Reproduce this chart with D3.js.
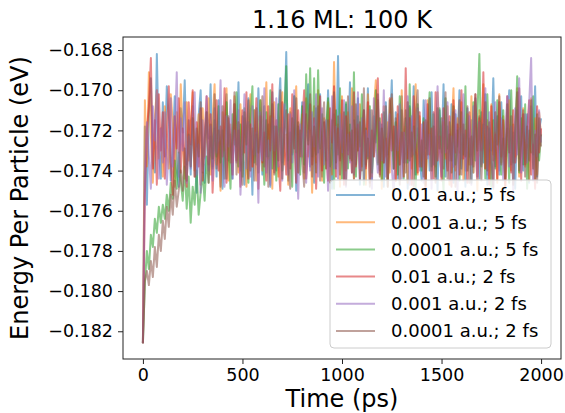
<!DOCTYPE html>
<html lang="en">
<head>
  <meta charset="UTF-8">
  <title>1.16 ML: 100 K</title>
  <script src="https://d3js.org/d3.v7.min.js"></script>
  <style>
    body { margin: 0; background: #fff; }
    text { font-family: "DejaVu Sans", sans-serif; fill: #000; }
    .tick line { stroke: #222; }
    .domain { display: none; }
  </style>
</head>
<body>
  <div id="chart"></div>

  <script>
    // sample times (ps), one sample every 10 ps
    const times = d3.range(0, 2001, 10);

    // energy per particle (eV)
    const e001_5fs = [
      -0.1826, -0.1718, -0.1757, -0.1712, -0.1694, -0.1736, -0.1741, -0.1682, -0.1729, -0.1744,
      -0.1706, -0.1733, -0.1698, -0.1714, -0.1745, -0.1727, -0.1703, -0.1739, -0.1748, -0.1709,
      -0.1721, -0.1695, -0.1737, -0.1715, -0.1742, -0.1708, -0.1726, -0.1751, -0.1713, -0.1700,
      -0.1734, -0.1746, -0.1711, -0.1724, -0.1697, -0.1738, -0.1719, -0.1743, -0.1705, -0.1730,
      -0.1749, -0.1716, -0.1702, -0.1735, -0.1722, -0.1744, -0.1707, -0.1728, -0.1696, -0.1740,
      -0.1713, -0.1747, -0.1731, -0.1704, -0.1719, -0.1752, -0.1710, -0.1737, -0.1699, -0.1725,
      -0.1742, -0.1708, -0.1733, -0.1717, -0.1748, -0.1701, -0.1729, -0.1740, -0.1712, -0.1694,
      -0.1736, -0.1720, -0.1681, -0.1745, -0.1711, -0.1732, -0.1703, -0.1750, -0.1718, -0.1727,
      -0.1706, -0.1741, -0.1714, -0.1697, -0.1738, -0.1723, -0.1746, -0.1709, -0.1731, -0.1702,
      -0.1743, -0.1716, -0.1735, -0.1700, -0.1728, -0.1749, -0.1712, -0.1739, -0.1683, -0.1734,
      -0.1720, -0.1744, -0.1707, -0.1730, -0.1696, -0.1741, -0.1715, -0.1737, -0.1704, -0.1747,
      -0.1724, -0.1710, -0.1738, -0.1699, -0.1733, -0.1745, -0.1713, -0.1726, -0.1702, -0.1740,
      -0.1717, -0.1748, -0.1706, -0.1732, -0.1721, -0.1695, -0.1739, -0.1711, -0.1744, -0.1727,
      -0.1703, -0.1736, -0.1714, -0.1749, -0.1708, -0.1730, -0.1698, -0.1742, -0.1719, -0.1734,
      -0.1745, -0.1705, -0.1729, -0.1716, -0.1740, -0.1701, -0.1737, -0.1723, -0.1750, -0.1710,
      -0.1731, -0.1697, -0.1743, -0.1718, -0.1735, -0.1707, -0.1746, -0.1712, -0.1728, -0.1700,
      -0.1739, -0.1722, -0.1748, -0.1709, -0.1733, -0.1715, -0.1741, -0.1704, -0.1726, -0.1744,
      -0.1711, -0.1736, -0.1702, -0.1747, -0.1719, -0.1730, -0.1694, -0.1738, -0.1713, -0.1742,
      -0.1706, -0.1729, -0.1745, -0.1717, -0.1700, -0.1737, -0.1721, -0.1749, -0.1710, -0.1734,
      -0.1703, -0.1740, -0.1725, -0.1712, -0.1746, -0.1708, -0.1732, -0.1698, -0.1743, -0.1720,
      -0.1714
    ];
    const e0001_5fs = [
      -0.1826, -0.1705, -0.1738, -0.1691, -0.1722, -0.1746, -0.1713, -0.1700, -0.1734, -0.1719,
      -0.1743, -0.1708, -0.1727, -0.1739, -0.1702, -0.1716, -0.1748, -0.1711, -0.1731, -0.1697,
      -0.1725, -0.1744, -0.1706, -0.1735, -0.1718, -0.1701, -0.1740, -0.1729, -0.1712, -0.1747,
      -0.1709, -0.1733, -0.1720, -0.1704, -0.1742, -0.1715, -0.1697, -0.1737, -0.1726, -0.1750,
      -0.1711, -0.1730, -0.1699, -0.1745, -0.1717, -0.1736, -0.1703, -0.1724, -0.1741, -0.1707,
      -0.1732, -0.1714, -0.1748, -0.1721, -0.1702, -0.1738, -0.1710, -0.1745, -0.1727, -0.1705,
      -0.1740, -0.1719, -0.1696, -0.1734, -0.1713, -0.1749, -0.1706, -0.1728, -0.1743, -0.1716,
      -0.1701, -0.1737, -0.1722, -0.1747, -0.1709, -0.1731, -0.1715, -0.1698, -0.1741, -0.1725,
      -0.1712, -0.1744, -0.1704, -0.1733, -0.1720, -0.1751, -0.1708, -0.1736, -0.1700, -0.1729,
      -0.1745, -0.1714, -0.1739, -0.1706, -0.1723, -0.1742, -0.1686, -0.1732, -0.1717, -0.1748,
      -0.1703, -0.1726, -0.1740, -0.1711, -0.1735, -0.1699, -0.1744, -0.1719, -0.1730, -0.1707,
      -0.1738, -0.1715, -0.1747, -0.1702, -0.1728, -0.1743, -0.1710, -0.1695, -0.1736, -0.1721,
      -0.1749, -0.1708, -0.1733, -0.1716, -0.1741, -0.1704, -0.1727, -0.1745, -0.1712, -0.1737,
      -0.1700, -0.1731, -0.1718, -0.1746, -0.1709, -0.1739, -0.1724, -0.1697, -0.1742, -0.1713,
      -0.1735, -0.1720, -0.1748, -0.1705, -0.1730, -0.1744, -0.1711, -0.1738, -0.1701, -0.1726,
      -0.1743, -0.1716, -0.1734, -0.1708, -0.1747, -0.1722, -0.1699, -0.1740, -0.1714, -0.1731,
      -0.1706, -0.1745, -0.1725, -0.1712, -0.1737, -0.1703, -0.1741, -0.1718, -0.1750, -0.1710,
      -0.1729, -0.1697, -0.1739, -0.1715, -0.1744, -0.1707, -0.1732, -0.1721, -0.1746, -0.1702,
      -0.1736, -0.1713, -0.1748, -0.1724, -0.1705, -0.1740, -0.1717, -0.1733, -0.1699, -0.1743,
      -0.1720, -0.1709, -0.1738, -0.1727, -0.1745, -0.1704, -0.1731, -0.1714, -0.1742, -0.1711,
      -0.1723
    ];
    const e00001_5fs = [
      -0.1826, -0.1796, -0.1780, -0.1789, -0.1772, -0.1778, -0.1764, -0.1771, -0.1758, -0.1766,
      -0.1757, -0.1764, -0.1752, -0.1760, -0.1746, -0.1754, -0.1735, -0.1749, -0.1731, -0.1745,
      -0.1755, -0.1738, -0.1759, -0.1743, -0.1766, -0.1748, -0.1757, -0.1740, -0.1762, -0.1751,
      -0.1741, -0.1755, -0.1733, -0.1746, -0.1723, -0.1739, -0.1715, -0.1733, -0.1708, -0.1736,
      -0.1720, -0.1744, -0.1706, -0.1731, -0.1749, -0.1712, -0.1727, -0.1701, -0.1738, -0.1717,
      -0.1743, -0.1709, -0.1730, -0.1746, -0.1714, -0.1698, -0.1736, -0.1722, -0.1741, -0.1705,
      -0.1728, -0.1747, -0.1711, -0.1733, -0.1700, -0.1739, -0.1718, -0.1745, -0.1707, -0.1726,
      -0.1740, -0.1713, -0.1688, -0.1735, -0.1721, -0.1748, -0.1703, -0.1731, -0.1716, -0.1742,
      -0.1708, -0.1737, -0.1692, -0.1725, -0.1689, -0.1733, -0.1694, -0.1741, -0.1690, -0.1729,
      -0.1712, -0.1746, -0.1720, -0.1704, -0.1738, -0.1715, -0.1749, -0.1710, -0.1732, -0.1699,
      -0.1744, -0.1723, -0.1706, -0.1739, -0.1717, -0.1735, -0.1691, -0.1743, -0.1713, -0.1728,
      -0.1702, -0.1747, -0.1719, -0.1734, -0.1708, -0.1741, -0.1725, -0.1700, -0.1737, -0.1714,
      -0.1745, -0.1711, -0.1730, -0.1748, -0.1705, -0.1722, -0.1739, -0.1716, -0.1742, -0.1703,
      -0.1727, -0.1744, -0.1710, -0.1736, -0.1697, -0.1733, -0.1718, -0.1749, -0.1707, -0.1731,
      -0.1740, -0.1714, -0.1747, -0.1721, -0.1701, -0.1738, -0.1712, -0.1743, -0.1726, -0.1709,
      -0.1734, -0.1750, -0.1704, -0.1729, -0.1716, -0.1741, -0.1708, -0.1737, -0.1720, -0.1745,
      -0.1711, -0.1732, -0.1698, -0.1740, -0.1724, -0.1746, -0.1706, -0.1735, -0.1713, -0.1682,
      -0.1738, -0.1717, -0.1744, -0.1702, -0.1730, -0.1748, -0.1715, -0.1739, -0.1705, -0.1727,
      -0.1742, -0.1710, -0.1733, -0.1719, -0.1746, -0.1700, -0.1736, -0.1723, -0.1693, -0.1741,
      -0.1714, -0.1737, -0.1707, -0.1749, -0.1720, -0.1731, -0.1703, -0.1744, -0.1712, -0.1735,
      -0.1722
    ];
    const e001_2fs = [
      -0.1826, -0.1752, -0.1720, -0.1708, -0.1684, -0.1739, -0.1715, -0.1747, -0.1702, -0.1730,
      -0.1711, -0.1744, -0.1725, -0.1698, -0.1736, -0.1752, -0.1713, -0.1729, -0.1704, -0.1741,
      -0.1719, -0.1734, -0.1748, -0.1706, -0.1727, -0.1700, -0.1743, -0.1716, -0.1738, -0.1709,
      -0.1745, -0.1722, -0.1703, -0.1737, -0.1712, -0.1751, -0.1728, -0.1705, -0.1740, -0.1718,
      -0.1733, -0.1699, -0.1746, -0.1714, -0.1724, -0.1742, -0.1707, -0.1735, -0.1720, -0.1748,
      -0.1710, -0.1731, -0.1701, -0.1744, -0.1717, -0.1738, -0.1726, -0.1704, -0.1749, -0.1713,
      -0.1736, -0.1721, -0.1745, -0.1708, -0.1730, -0.1697, -0.1741, -0.1715, -0.1734, -0.1750,
      -0.1706, -0.1727, -0.1742, -0.1712, -0.1739, -0.1702, -0.1723, -0.1746, -0.1710, -0.1733,
      -0.1718, -0.1700, -0.1744, -0.1729, -0.1707, -0.1737, -0.1714, -0.1749, -0.1722, -0.1703,
      -0.1740, -0.1716, -0.1731, -0.1745, -0.1709, -0.1726, -0.1698, -0.1743, -0.1719, -0.1735,
      -0.1705, -0.1747, -0.1713, -0.1732, -0.1721, -0.1741, -0.1701, -0.1738, -0.1717, -0.1744,
      -0.1728, -0.1710, -0.1739, -0.1706, -0.1746, -0.1720, -0.1733, -0.1715, -0.1694, -0.1742,
      -0.1712, -0.1736, -0.1724, -0.1748, -0.1704, -0.1730, -0.1718, -0.1745, -0.1708, -0.1737,
      -0.1721, -0.1743, -0.1689, -0.1734, -0.1714, -0.1747, -0.1703, -0.1729, -0.1741, -0.1711,
      -0.1738, -0.1716, -0.1750, -0.1707, -0.1732, -0.1719, -0.1744, -0.1701, -0.1735, -0.1723,
      -0.1745, -0.1709, -0.1727, -0.1740, -0.1713, -0.1748, -0.1705, -0.1731, -0.1717, -0.1742,
      -0.1700, -0.1734, -0.1720, -0.1746, -0.1711, -0.1737, -0.1725, -0.1702, -0.1743, -0.1714,
      -0.1730, -0.1691, -0.1739, -0.1718, -0.1747, -0.1708, -0.1735, -0.1722, -0.1744, -0.1706,
      -0.1733, -0.1715, -0.1748, -0.1703, -0.1728, -0.1741, -0.1710, -0.1736, -0.1724, -0.1699,
      -0.1745, -0.1712, -0.1737, -0.1720, -0.1705, -0.1742, -0.1727, -0.1749, -0.1708, -0.1731,
      -0.1719
    ];
    const e0001_2fs = [
      -0.1826, -0.1741, -0.1716, -0.1733, -0.1749, -0.1708, -0.1725, -0.1700, -0.1744, -0.1719,
      -0.1736, -0.1711, -0.1747, -0.1729, -0.1704, -0.1738, -0.1722, -0.1691, -0.1743, -0.1714,
      -0.1730, -0.1706, -0.1746, -0.1723, -0.1739, -0.1712, -0.1701, -0.1742, -0.1727, -0.1751,
      -0.1715, -0.1734, -0.1703, -0.1740, -0.1718, -0.1745, -0.1709, -0.1731, -0.1724, -0.1695,
      -0.1737, -0.1748, -0.1713, -0.1728, -0.1705, -0.1744, -0.1720, -0.1736, -0.1710, -0.1752,
      -0.1726, -0.1702, -0.1739, -0.1716, -0.1743, -0.1708, -0.1732, -0.1721, -0.1756, -0.1711,
      -0.1735, -0.1699, -0.1741, -0.1725, -0.1747, -0.1714, -0.1730, -0.1704, -0.1738, -0.1719,
      -0.1745, -0.1707, -0.1729, -0.1742, -0.1712, -0.1736, -0.1700, -0.1723, -0.1754, -0.1717,
      -0.1733, -0.1706, -0.1746, -0.1720, -0.1740, -0.1711, -0.1728, -0.1702, -0.1743, -0.1724,
      -0.1709, -0.1737, -0.1715, -0.1750, -0.1726, -0.1703, -0.1739, -0.1718, -0.1744, -0.1712,
      -0.1731, -0.1705, -0.1748, -0.1722, -0.1736, -0.1708, -0.1742, -0.1727, -0.1701, -0.1739,
      -0.1714, -0.1745, -0.1720, -0.1733, -0.1710, -0.1749, -0.1704, -0.1729, -0.1741, -0.1716,
      -0.1735, -0.1700, -0.1743, -0.1724, -0.1712, -0.1738, -0.1753, -0.1718, -0.1730, -0.1707,
      -0.1744, -0.1721, -0.1736, -0.1703, -0.1747, -0.1713, -0.1732, -0.1725, -0.1709, -0.1740,
      -0.1717, -0.1746, -0.1705, -0.1734, -0.1722, -0.1749, -0.1711, -0.1737, -0.1698, -0.1728,
      -0.1743, -0.1715, -0.1731, -0.1706, -0.1745, -0.1723, -0.1738, -0.1710, -0.1751, -0.1719,
      -0.1734, -0.1702, -0.1740, -0.1726, -0.1713, -0.1747, -0.1708, -0.1729, -0.1744, -0.1716,
      -0.1737, -0.1721, -0.1699, -0.1742, -0.1711, -0.1733, -0.1748, -0.1706, -0.1727, -0.1740,
      -0.1714, -0.1745, -0.1723, -0.1703, -0.1738, -0.1718, -0.1750, -0.1709, -0.1732, -0.1694,
      -0.1741, -0.1725, -0.1712, -0.1736, -0.1707, -0.1684, -0.1745, -0.1720, -0.1733, -0.1710,
      -0.1726
    ];
    const e00001_2fs = [
      -0.1826, -0.1795, -0.1790, -0.1797, -0.1785, -0.1793, -0.1778, -0.1788, -0.1772, -0.1780,
      -0.1765, -0.1774, -0.1758, -0.1768, -0.1752, -0.1762, -0.1745, -0.1758, -0.1750, -0.1740,
      -0.1750, -0.1729, -0.1745, -0.1722, -0.1738, -0.1714, -0.1743, -0.1719, -0.1733, -0.1706,
      -0.1741, -0.1725, -0.1711, -0.1746, -0.1717, -0.1734, -0.1702, -0.1739, -0.1720, -0.1748,
      -0.1708, -0.1730, -0.1744, -0.1713, -0.1736, -0.1724, -0.1701, -0.1742, -0.1716, -0.1733,
      -0.1747, -0.1711, -0.1727, -0.1705, -0.1740, -0.1719, -0.1745, -0.1709, -0.1731, -0.1722,
      -0.1703, -0.1738, -0.1715, -0.1748, -0.1726, -0.1707, -0.1742, -0.1718, -0.1735, -0.1700,
      -0.1744, -0.1723, -0.1710, -0.1737, -0.1749, -0.1714, -0.1729, -0.1704, -0.1741, -0.1720,
      -0.1735, -0.1748, -0.1712, -0.1727, -0.1702, -0.1743, -0.1718, -0.1732, -0.1708, -0.1745,
      -0.1721, -0.1706, -0.1739, -0.1715, -0.1746, -0.1725, -0.1701, -0.1736, -0.1713, -0.1742,
      -0.1728, -0.1711, -0.1747, -0.1703, -0.1734, -0.1720, -0.1744, -0.1707, -0.1730, -0.1716,
      -0.1740, -0.1699, -0.1737, -0.1724, -0.1748, -0.1710, -0.1733, -0.1717, -0.1705, -0.1743,
      -0.1719, -0.1736, -0.1708, -0.1745, -0.1726, -0.1702, -0.1739, -0.1714, -0.1731, -0.1747,
      -0.1710, -0.1728, -0.1741, -0.1706, -0.1735, -0.1721, -0.1748, -0.1712, -0.1700, -0.1738,
      -0.1725, -0.1743, -0.1715, -0.1732, -0.1704, -0.1740, -0.1718, -0.1746, -0.1709, -0.1729,
      -0.1714, -0.1739, -0.1701, -0.1744, -0.1722, -0.1735, -0.1711, -0.1748, -0.1727, -0.1705,
      -0.1742, -0.1717, -0.1733, -0.1708, -0.1746, -0.1723, -0.1738, -0.1702, -0.1730, -0.1713,
      -0.1745, -0.1720, -0.1706, -0.1740, -0.1716, -0.1734, -0.1749, -0.1711, -0.1727, -0.1703,
      -0.1737, -0.1724, -0.1744, -0.1707, -0.1731, -0.1713, -0.1747, -0.1719, -0.1701, -0.1740,
      -0.1726, -0.1710, -0.1743, -0.1718, -0.1735, -0.1705, -0.1739, -0.1722, -0.1746, -0.1714,
      -0.1728
    ];

    const labels = [
      "0.01 a.u.; 5 fs", "0.001 a.u.; 5 fs", "0.0001 a.u.; 5 fs",
      "0.01 a.u.; 2 fs", "0.001 a.u.; 2 fs", "0.0001 a.u.; 2 fs"
    ];
    const seriesValues = [e001_5fs, e0001_5fs, e00001_5fs, e001_2fs, e0001_2fs, e00001_2fs];
    const colors = ["#1f77b4", "#ff7f0e", "#2ca02c", "#d62728", "#9467bd", "#8c564b"];

    const xTicks = [0, 500, 1000, 1500, 2000];
    const yTicks = [-0.182, -0.180, -0.178, -0.176, -0.174, -0.172, -0.170, -0.168];

    // layout
    const W = 565, H = 413;
    const margin = { top: 37, right: 4, bottom: 54, left: 123 };
    const width = W - margin.left - margin.right;
    const height = H - margin.top - margin.bottom;

    const svg = d3.select("#chart")
      .append("svg")
      .attr("width", W)
      .attr("height", H);

    const g = svg.append("g")
      .attr("transform", "translate(" + margin.left + "," + margin.top + ")");

    const x = d3.scaleLinear()
      .domain([-100, 2100])
      .range([0, width]);

    const y = d3.scaleLinear()
      .domain([-0.18338, -0.16735])
      .range([height, 0]);

    g.append("clipPath").attr("id", "clip")
      .append("rect").attr("width", width).attr("height", height);

    const line = d3.line()
      .x((d, i) => x(times[i]))
      .y(d => y(d));

    // series
    g.append("g")
      .attr("clip-path", "url(#clip)")
      .selectAll("path")
      .data(seriesValues)
      .enter().append("path")
        .attr("d", line)
        .attr("fill", "none")
        .attr("stroke", (d, i) => colors[i])
        .attr("stroke-width", 2)
        .attr("stroke-opacity", 0.55)
        .attr("stroke-linejoin", "round");

    // axes
    const xAxis = g.append("g")
      .attr("transform", "translate(0," + height + ")")
      .call(d3.axisBottom(x).tickValues(xTicks).tickSize(5).tickPadding(5).tickFormat(d3.format("d")));
    xAxis.selectAll("text").style("font-size", "17.5px");

    const yAxis = g.append("g")
      .call(d3.axisLeft(y).tickValues(yTicks).tickSize(5).tickPadding(5)
        .tickFormat(d => d3.format(".3f")(d).replace("-", "\u2212")));
    yAxis.selectAll("text").style("font-size", "17.5px");

    // frame
    g.append("rect")
      .attr("width", width)
      .attr("height", height)
      .attr("fill", "none")
      .attr("stroke", "#222")
      .attr("stroke-width", 1);

    // title and axis labels
    svg.append("text")
      .attr("x", margin.left + width / 2)
      .attr("y", 28)
      .attr("text-anchor", "middle")
      .style("font-size", "24px")
      .text("1.16 ML: 100 K");

    svg.append("text")
      .attr("x", margin.left + width / 2)
      .attr("y", 407)
      .attr("text-anchor", "middle")
      .style("font-size", "24px")
      .text("Time (ps)");

    svg.append("text")
      .attr("transform", "translate(28," + (margin.top + height / 2) + ") rotate(-90)")
      .attr("text-anchor", "middle")
      .style("font-size", "24px")
      .text("Energy Per Particle (eV)");

    // legend
    const legend = svg.append("g").attr("transform", "translate(330,180)");
    legend.append("rect")
      .attr("width", 221)
      .attr("height", 168)
      .attr("rx", 4)
      .attr("fill", "#fff")
      .attr("fill-opacity", 0.8)
      .attr("stroke", "#ccc");

    const rows = legend.selectAll(".row")
      .data(labels)
      .enter().append("g")
        .attr("class", "row")
        .attr("transform", (d, i) => "translate(0," + (15 + i * 27.2) + ")");

    rows.append("line")
      .attr("x1", 6).attr("x2", 45)
      .attr("stroke", (d, i) => colors[i])
      .attr("stroke-width", 2)
      .attr("stroke-opacity", 0.55);

    rows.append("text")
      .attr("x", 61)
      .attr("dy", "0.36em")
      .style("font-size", "18px")
      .text(d => d);
  </script>
</body>
</html>
